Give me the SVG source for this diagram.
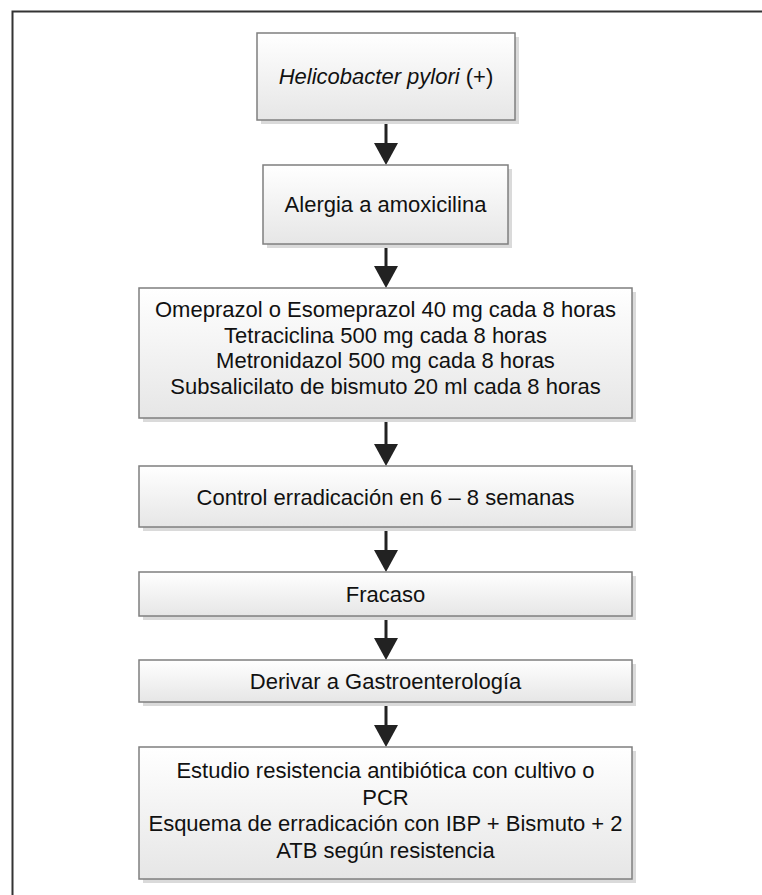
<svg xmlns="http://www.w3.org/2000/svg" width="762" height="895" viewBox="0 0 762 895">
<style>
.box{fill:url(#g);stroke:#7f7f7f;stroke-width:1.5}
.sh{fill:#dadada}
.t{font-family:"Liberation Sans",Arial,sans-serif;font-size:22px;fill:#111;text-anchor:middle}
.c{stroke:#222;stroke-width:3;fill:none;marker-end:url(#ah)}
</style>
<defs>
<linearGradient id="g" x1="0" y1="0" x2="0" y2="1">
<stop offset="0" stop-color="#ffffff"/>
<stop offset="1" stop-color="#e6e6e6"/>
</linearGradient>
<marker id="ah" viewBox="0 0 22 24" refX="12" refY="12" markerWidth="22" markerHeight="24" markerUnits="userSpaceOnUse" orient="auto">
<path d="M0,0 L22,12 L0,24 Z" fill="#222"/>
</marker>
</defs>
<rect width="762" height="895" fill="#fff"/>
<path d="M12.5,895 V11.5 H762" fill="none" stroke="#333" stroke-width="2"/>
<g id="connectors">
<path class="c" d="M386,120 V155"/>
<path class="c" d="M386,244 V278"/>
<path class="c" d="M386,418 V456"/>
<path class="c" d="M386,527 V562"/>
<path class="c" d="M386,616 V650"/>
<path class="c" d="M386,702 V737"/>
</g>
<g id="n1">
<rect class="sh" x="261" y="37" width="258" height="87"/>
<rect class="box" x="257" y="33" width="258" height="87"/>
<text class="t" x="386" y="84"><tspan font-style="italic">Helicobacter pylori</tspan> (+)</text>
</g>
<g id="n2">
<rect class="sh" x="267" y="169" width="245" height="79"/>
<rect class="box" x="263" y="165" width="245" height="79"/>
<text class="t" x="385.5" y="212">Alergia a amoxicilina</text>
</g>
<g id="n3">
<rect class="sh" x="143" y="292" width="493" height="130"/>
<rect class="box" x="139" y="288" width="493" height="130"/>
<text class="t" x="385.5" y="317">Omeprazol o Esomeprazol 40 mg cada 8 horas</text>
<text class="t" x="385.5" y="343">Tetraciclina 500 mg cada 8 horas</text>
<text class="t" x="385.5" y="368">Metronidazol 500 mg cada 8 horas</text>
<text class="t" x="385.5" y="394">Subsalicilato de bismuto 20 ml cada 8 horas</text>
</g>
<g id="n4">
<rect class="sh" x="143" y="470" width="493" height="61"/>
<rect class="box" x="139" y="466" width="493" height="61"/>
<text class="t" x="385.5" y="505">Control erradicación en 6 – 8 semanas</text>
</g>
<g id="n5">
<rect class="sh" x="143" y="576" width="493" height="44"/>
<rect class="box" x="139" y="572" width="493" height="44"/>
<text class="t" x="385.5" y="602">Fracaso</text>
</g>
<g id="n6">
<rect class="sh" x="143" y="664" width="493" height="42"/>
<rect class="box" x="139" y="660" width="493" height="42"/>
<text class="t" x="385.5" y="689">Derivar a Gastroenterología</text>
</g>
<g id="n7">
<rect class="sh" x="143" y="751" width="493" height="132"/>
<rect class="box" x="139" y="747" width="493" height="132"/>
<text class="t" x="385.5" y="778">Estudio resistencia antibiótica con cultivo o</text>
<text class="t" x="385.5" y="805">PCR</text>
<text class="t" x="385.5" y="831">Esquema de erradicación con IBP + Bismuto + 2</text>
<text class="t" x="385.5" y="858">ATB según resistencia</text>
</g>
</svg>
